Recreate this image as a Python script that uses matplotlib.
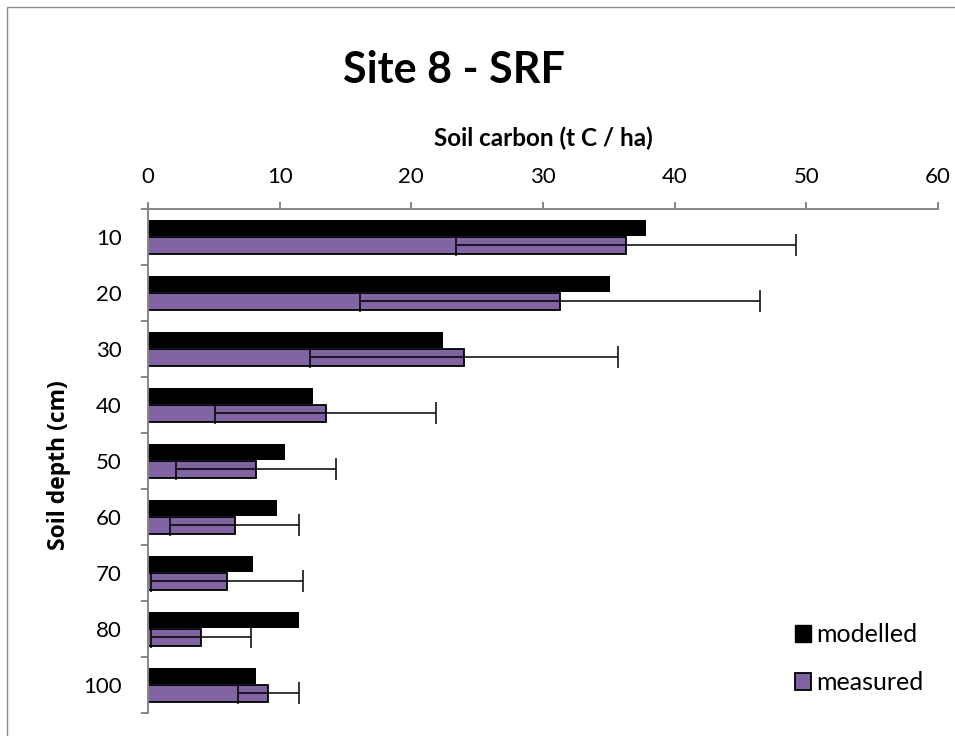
import matplotlib
matplotlib.use("Agg")
import matplotlib.pyplot as plt
from matplotlib.patches import Rectangle, Patch
import numpy as np

depths = ["10", "20", "30", "40", "50", "60", "70", "80", "100"]
modelled = [37.8, 35.1, 22.4, 12.5, 10.4, 9.8, 8.0, 11.5, 8.2]
measured = [36.3, 31.3, 24.0, 13.5, 8.2, 6.6, 6.0, 4.0, 9.15]
measured_err = [12.9, 15.2, 11.7, 8.4, 6.1, 4.9, 5.8, 3.8, 2.3]

plt.rcParams['font.family'] = ['Lato', 'DejaVu Sans']

fig = plt.figure(figsize=(9.55, 7.36), dpi=100)
fig.patches.append(Rectangle((7/955, -0.05), 1.1, (729/736) + 0.05, transform=fig.transFigure,
                             fill=False, edgecolor='#8c8c8c', linewidth=1.0, zorder=0))

ax = fig.add_axes([148/955, 1 - 713/736, 790/955, 504/736])

y = np.arange(len(depths))
h = 0.3
ax.barh(y - 0.16, modelled, height=h, color='black', label='modelled', zorder=2)
ax.barh(y + 0.15, measured, height=h, color='#8064A2', edgecolor='black', linewidth=1.3,
        label='measured', zorder=2)
ax.errorbar(measured, y + 0.15, xerr=measured_err, fmt='none', ecolor='black',
            elinewidth=1.1, capsize=8, capthick=1.1, zorder=3)

ax.set_xlim(0, 60)
ax.set_ylim(len(depths) - 0.5, -0.5)

ax.xaxis.tick_top()
ax.set_xticks(np.arange(0, 61, 10))
ax.tick_params(axis='x', which='major', direction='out', length=5, width=1.4,
               color='#868686', pad=11, labelsize=16)

ax.set_yticks(y)
ax.set_yticklabels(depths)
ax.set_yticks(np.arange(-0.5, len(depths), 1.0), minor=True)
ax.tick_params(axis='y', which='major', length=0, pad=19, labelsize=16)
ax.tick_params(axis='y', which='minor', direction='out', length=5, width=1.4, color='#868686')

for s in ['bottom', 'right']:
    ax.spines[s].set_visible(False)
for s in ['top', 'left']:
    ax.spines[s].set_color('#868686')
    ax.spines[s].set_linewidth(1.4)

ax.xaxis.set_label_position('top')
ax.set_xlabel('Soil carbon (t C / ha)', fontsize=17.5, fontweight='bold')
ax.xaxis.label.set_va('center')
ax.xaxis.set_label_coords(0.5, (713 - 138) / 504)
ax.set_ylabel('Soil depth (cm)', fontsize=16.5, fontweight='bold',
              family=['Open Sans', 'DejaVu Sans'])
ax.yaxis.label.set_va('center')
ax.yaxis.set_label_coords((59 - 148) / 790, (713 - 465) / 504)

fig.text(454/955, 1 - 70/736, 'Site 8 - SRF', fontsize=31, fontweight='bold',
         ha='center', va='center')

handles = [Patch(facecolor='black', edgecolor='black'),
           Patch(facecolor='#8064A2', edgecolor='black', linewidth=1.3)]
fig.legend(handles, ['modelled', 'measured'], loc='center left',
           bbox_to_anchor=(772/955, 1 - 659/736), frameon=False, fontsize=18,
           handlelength=0.65, handleheight=0.65, handletextpad=0.2, labelspacing=1.0)

fig.savefig('out.png', dpi=100)
